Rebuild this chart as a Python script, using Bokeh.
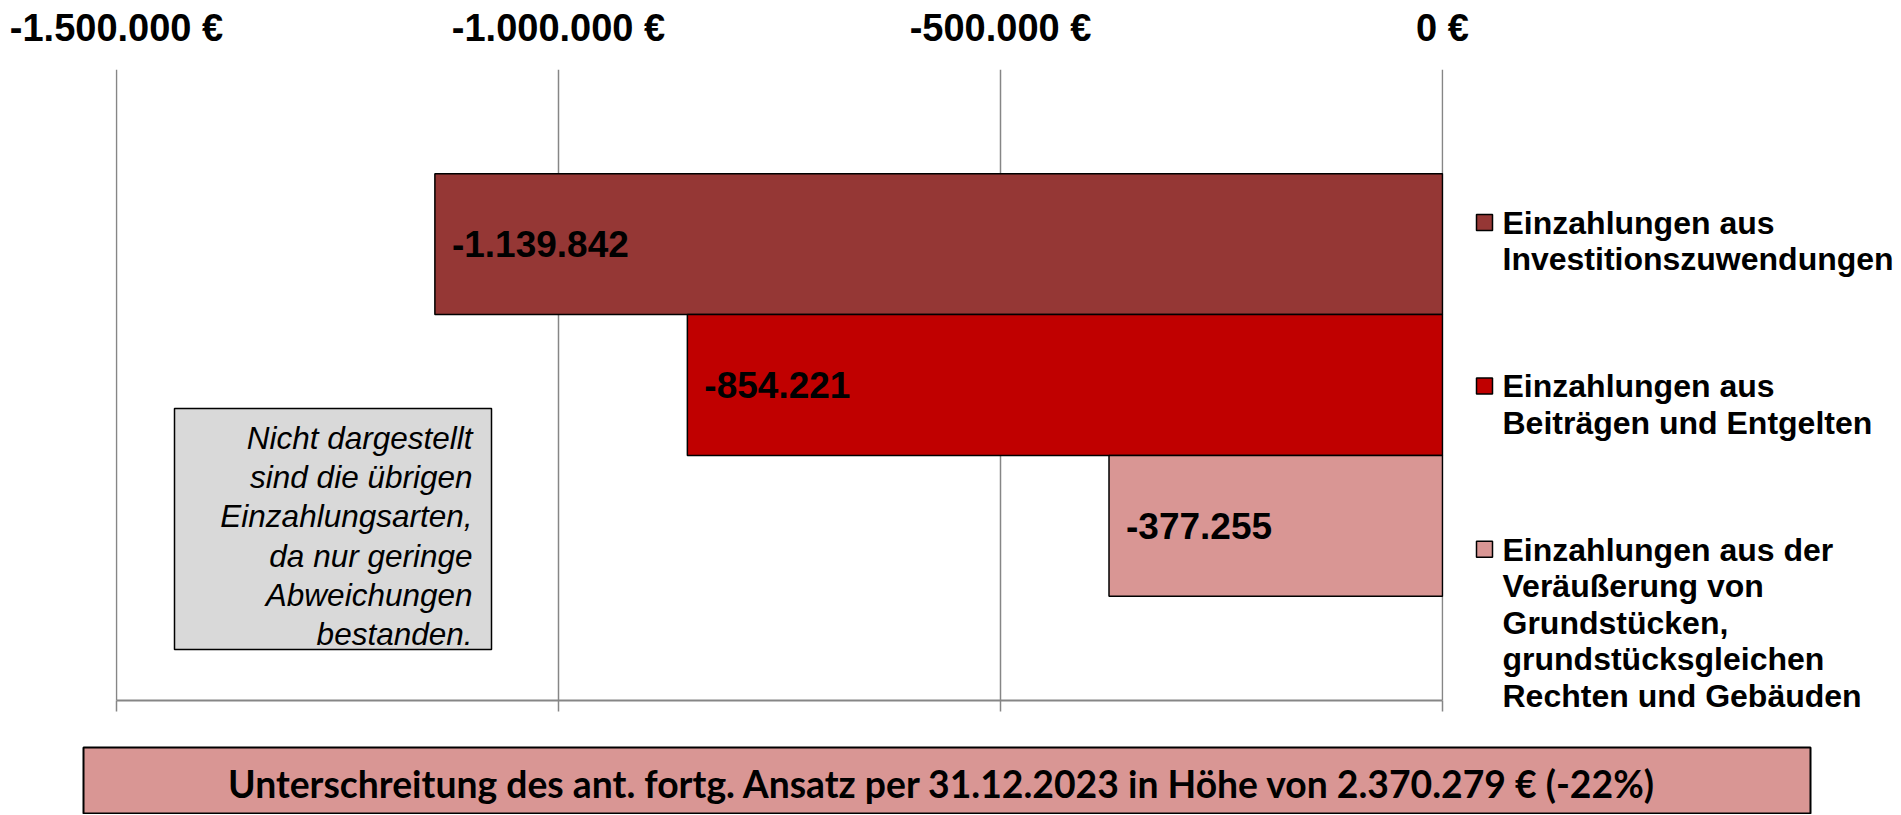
from bokeh.plotting import figure
from bokeh.layouts import row, column
from bokeh.models import Range1d, FixedTicker, LinearAxis, Label, BoxAnnotation, ColumnDataSource
from bokeh.core.properties import value
from bokeh.embed import file_html
from bokeh.resources import INLINE

# ---------------- data ----------------
categories = [
    "Einzahlungen aus\nInvestitionszuwendungen",
    "Einzahlungen aus\nBeiträgen und Entgelten",
    "Einzahlungen aus der\nVeräußerung von\nGrundstücken,\ngrundstücksgleichen\nRechten und Gebäuden",
]
values = [-1139842, -854221, -377255]
colors = ["#953735", "#C00000", "#D99694"]
tick_values = [-1500000, -1000000, -500000, 0]
tick_labels = ["-1.500.000 €", "-1.000.000 €", "-500.000 €", "0 €"]
note_text = "Nicht dargestellt\nsind die übrigen\nEinzahlungsarten,\nda nur geringe\nAbweichungen\nbestanden."
banner_text = "Unterschreitung des ant. fortg. Ansatz per 31.12.2023  in Höhe von 2.370.279 € (-22%)"

FONT = "Liberation Sans"
TOTAL_W, TOTAL_H = 1896, 814

# ---------------- main chart ----------------
MAIN_W, MAIN_H = 1470, 716
ML, MR, MT, MB = 115, 27, 69, 16           # frame 115..1443 (1 px slack each side)
FW, FH = MAIN_W - ML - MR, MAIN_H - MT - MB
XMIN, XMAX = min(tick_values), max(tick_values)
U = (XMAX - XMIN) / (FW - 2)               # one pixel in data units
XR0, XR1 = XMIN - U, XMAX + U
Y0, Y1 = -1.24, len(values) - 1 + 1.24


def X(px):
    return XR0 + (px - ML) / FW * (XR1 - XR0)


def Y(py):
    return Y0 + (py - MT) / FH * (Y1 - Y0)


p = figure(width=MAIN_W, height=MAIN_H,
           x_range=Range1d(XR0, XR1), y_range=Range1d(Y1, Y0),
           x_axis_location="above", y_axis_location=None,
           toolbar_location=None, output_backend="svg",
           min_border_left=ML, min_border_right=MR,
           min_border_top=MT, min_border_bottom=MB)
p.frame_align = False
p.outline_line_color = None
p.background_fill_color = "white"
p.border_fill_color = "white"

ticker = FixedTicker(ticks=tick_values)

top = p.xaxis[0]
top.ticker = ticker
top.major_label_overrides = {t: l for t, l in zip(tick_values, tick_labels)}
top.axis_line_color = None
top.major_tick_line_color = None
top.minor_tick_line_color = None
top.major_label_standoff = 15
top.major_label_text_font = FONT
top.major_label_text_font_style = "bold"
top.major_label_text_font_size = "38px"
top.major_label_text_color = "black"

bottom = LinearAxis(ticker=ticker, bounds=(XMIN, XMAX))
bottom.axis_line_color = "#868686"
bottom.axis_line_width = 2
bottom.major_tick_line_color = "#868686"
bottom.major_tick_line_width = 1.5
bottom.major_tick_out = 11
bottom.major_tick_in = 0
bottom.minor_tick_line_color = None
bottom.major_label_standoff = 0
bottom.major_label_text_color = None
bottom.major_label_text_font_size = "1px"
p.add_layout(bottom, "below")

p.xgrid.ticker = ticker
p.xgrid.grid_line_color = "#868686"
p.xgrid.grid_line_width = 1.5
p.ygrid.visible = False

src = ColumnDataSource(dict(
    y=list(range(len(values))),
    value=values,
    color=colors,
    label=[f"{v:,}".replace(",", ".") for v in values],
))
p.hbar(y="y", left="value", right=0, height=1, fill_color="color",
       line_color="black", line_width=1.5, source=src)
p.text(x="value", y="y", text="label", source=src, x_offset=17,
       text_align="left", text_baseline="middle",
       text_font=value(FONT), text_font_style="bold",
       text_font_size="37px", text_color="black")

# note box
p.add_layout(BoxAnnotation(left=X(174), right=X(491), top=Y(408), bottom=Y(649),
                           fill_color="#D9D9D9", fill_alpha=1,
                           line_color="black", line_alpha=1, line_width=1.5))
p.add_layout(Label(x=X(472), y=Y(535.5), text=note_text,
                   text_align="right", text_baseline="middle",
                   text_font=FONT, text_font_style="italic",
                   text_font_size="31.5px", text_line_height=1.09,
                   text_color="black"))

# ---------------- legend panel ----------------
LEG_X0 = MAIN_W
LEG_W = TOTAL_W - MAIN_W
lg = figure(width=LEG_W, height=MAIN_H,
            x_range=Range1d(LEG_X0, LEG_X0 + LEG_W), y_range=Range1d(MAIN_H, 0),
            x_axis_location=None, y_axis_location=None,
            toolbar_location=None, output_backend="svg",
            min_border=0)
lg.frame_align = False
lg.outline_line_color = None
lg.grid.visible = False

line_h = 36.7
gap = 90
first_centers, block_centers = [], []
yc = 222
for cat in categories:
    n = cat.count("\n") + 1
    first_centers.append(yc)
    block_centers.append(yc + (n - 1) * line_h / 2)
    yc += n * line_h + gap

lg.rect(x=[1484] * len(categories), y=first_centers, width=16, height=16,
        fill_color=colors, line_color="black", line_width=1.5)
lg.text(x=[1502] * len(categories), y=block_centers, text=categories,
        text_align="left", text_baseline="middle",
        text_font=value(FONT), text_font_style="bold",
        text_font_size="32px", text_line_height=1.015, text_color="black")

# ---------------- banner ----------------
BAN_H = TOTAL_H - MAIN_H
bn = figure(width=TOTAL_W, height=BAN_H,
            x_range=Range1d(0, 1), y_range=Range1d(0, 1),
            x_axis_location=None, y_axis_location=None,
            toolbar_location=None, output_backend="svg",
            min_border_left=83, min_border_right=TOTAL_W - 1810,
            min_border_top=747 - MAIN_H, min_border_bottom=1)
bn.frame_align = False
bn.grid.visible = False
bn.background_fill_color = "#D99694"
bn.border_fill_color = "white"
bn.outline_line_color = "black"
bn.outline_line_width = 2
bn.add_layout(Label(x=0.5, y=0.46, text=banner_text,
                    text_align="center", text_baseline="middle",
                    text_font="Lato", text_font_style="bold",
                    text_font_size="37.3px", text_color="black"))

layout = column(row(p, lg, spacing=0), bn, spacing=0)
open("out.html", "w").write(file_html(layout, INLINE))
